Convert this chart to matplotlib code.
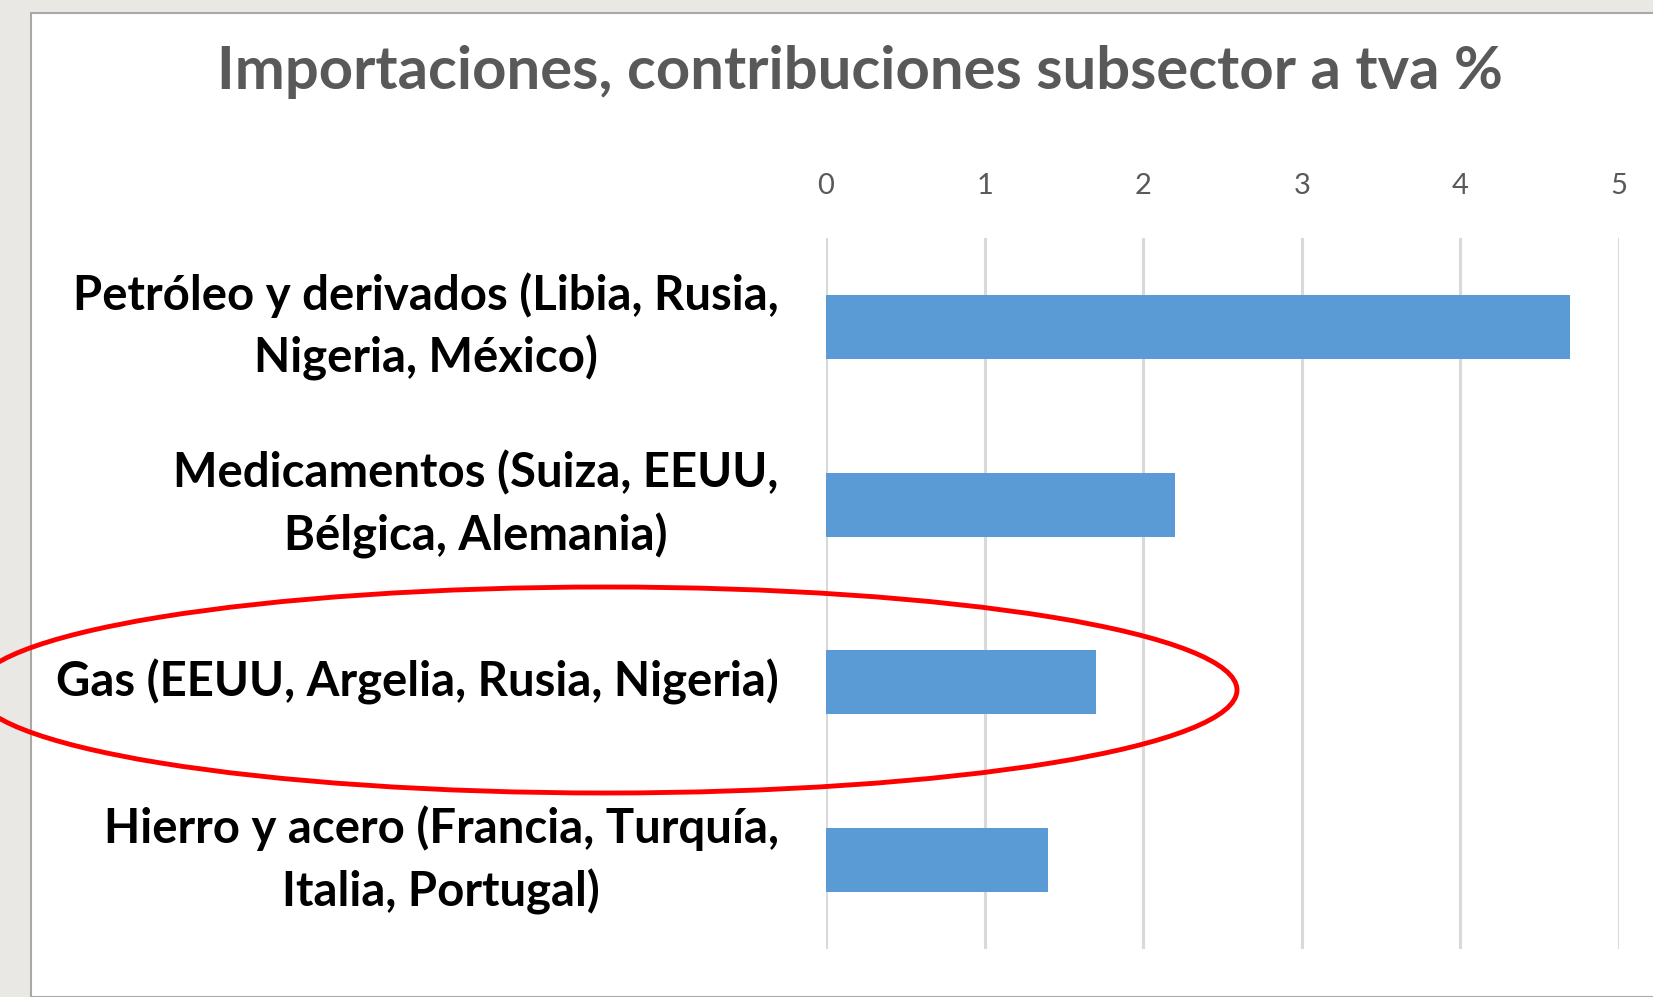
import matplotlib.pyplot as plt
from matplotlib.patches import Ellipse, Rectangle

plt.rcParams['font.family'] = ['Lato', 'DejaVu Sans']

categorias = [
    "Petróleo y derivados (Libia, Rusia,\nNigeria, México)",
    "Medicamentos (Suiza, EEUU,\nBélgica, Alemania)",
    "Gas (EEUU, Argelia, Rusia, Nigeria)",
    "Hierro y acero (Francia, Turquía,\nItalia, Portugal)",
]
valores = [4.69, 2.20, 1.70, 1.40]
ticks_x = [0, 1, 2, 3, 4, 5]
titulo = "Importaciones, contribuciones subsector a tva %"

W, H = 1653, 997
fig = plt.figure(figsize=(W / 100, H / 100), dpi=100)
fig.patch.set_facecolor('#eae8e5')

# marco blanco del gráfico (captura de pantalla)
fig.patches.append(Rectangle((31 / W, 0), 1, 1 - 13 / H, transform=fig.transFigure,
                             facecolor='white', edgecolor='#a8a8a8', linewidth=1.5, zorder=-5))

ax = fig.add_axes([826 / W, 1 - 949 / H, 793 / W, 711 / H])
ax.set_facecolor('none')
ax.set_zorder(1)

y = range(len(categorias))
ax.barh(y, valores, height=0.36, color='#5b9bd5', zorder=3)

ax.set_xlim(0, 5)
ax.set_ylim(len(categorias) - 0.5, -0.5)
ax.set_xticks(ticks_x)
ax.xaxis.tick_top()
ax.tick_params(axis='x', length=0, pad=28, labelsize=21, labelcolor='#595959')
ax.set_yticks(list(y))
ax.set_yticklabels(categorias, fontsize=34, fontweight='bold', multialignment='center',
                   linespacing=1.45)
for t in ax.get_yticklabels():
    t.set_verticalalignment('center')
ax.tick_params(axis='y', length=0, pad=34)
ax.grid(True, axis='x', color='#d9d9d9', linewidth=2.2, zorder=0)
for s in ax.spines.values():
    s.set_visible(False)

fig.text(860 / W, 1 - 72 / H, titulo, ha='center', va='center', fontsize=43,
         fontweight='bold', color='#595959')

# óvalo rojo resaltando el gas
fig.patches.append(Ellipse((606 / W, 1 - 690 / H), 1262 / W, 206 / H, transform=fig.transFigure,
                           fill=False, edgecolor='#ff0000', linewidth=3.5, zorder=5))

fig.savefig('out.png', dpi=100, facecolor=fig.get_facecolor())
